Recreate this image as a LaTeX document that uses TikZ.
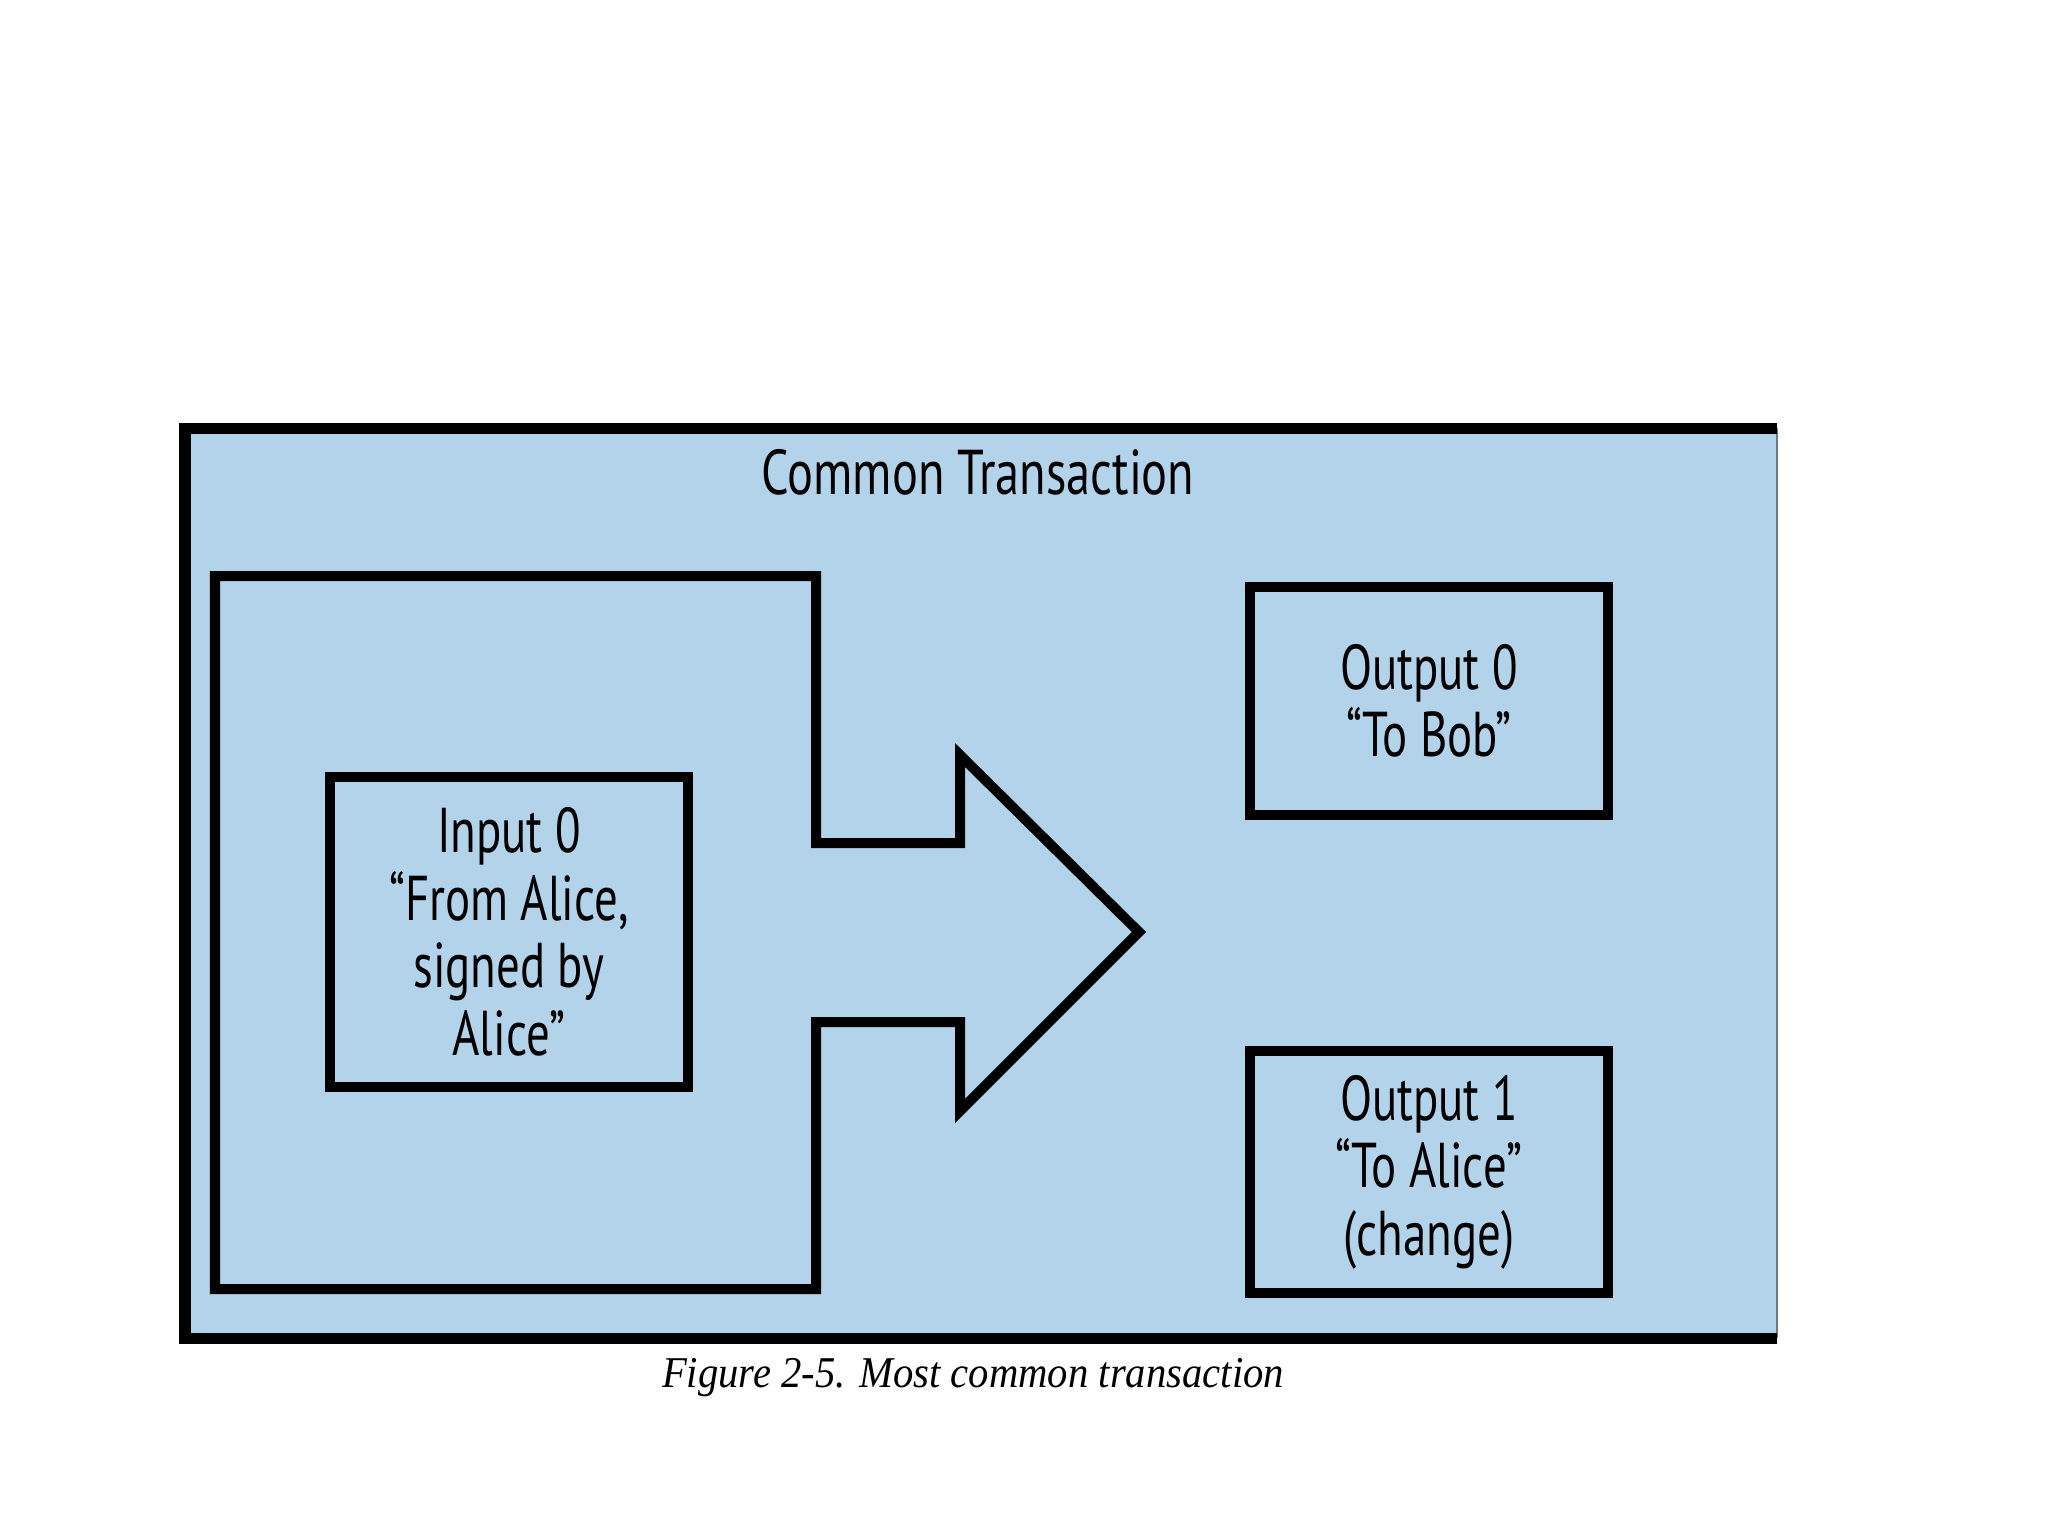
\documentclass[tikz,border=0pt]{standalone}
\usepackage{fontspec}
\newfontfamily\boxfont{PT Sans}[FakeStretch=0.74]
\newfontfamily\titlefont{PT Sans}[FakeStretch=0.765]
\newfontfamily\capfont{Liberation Serif}[FakeStretch=0.925]
\definecolor{txblue}{RGB}{179,211,234}
\definecolor{edgegrey}{RGB}{110,120,130}
\tikzset{
  thickline/.style={draw=black, line width=0.10cm, line join=miter},
  outbox/.style={thickline, fill=txblue, rectangle, inner sep=0pt, align=center,
    font=\boxfont\fontsize{18}{19.2}\selectfont},
  labeltext/.style={inner sep=0pt, align=center, font=\titlefont\fontsize{18}{19.2}\selectfont},
}
\begin{document}
\begin{tikzpicture}[x=0.01cm, y=-0.01cm]
\useasboundingbox (0,0) rectangle (2048,1536);
\fill[white] (0,0) rectangle (2048,1536);
% outer transaction frame
\fill[txblue] (185,428) rectangle (1777,1338);
\draw[edgegrey, line width=0.02cm] (1777,428) -- (1777,1338);
\draw[black, line width=0.11cm, line join=miter] (1777,428) -- (185,428) -- (185,1338) -- (1777,1338);
\node[labeltext, anchor=base] (title) at (978,494) {Common Transaction};
% input region with arrow
\draw[thickline, fill=txblue] (215,576) -- (816,576) -- (816,843) -- (960,843) -- (960,755)
  -- (1139,932) -- (960,1111) -- (960,1022) -- (816,1022) -- (816,1289) -- (215,1289) -- cycle;
% boxes
\node[outbox, minimum width=3.58cm, minimum height=3.10cm] (in0) at (509,932) {Input 0\\“From Alice,\\signed by\\Alice”};
\node[outbox, minimum width=3.58cm, minimum height=2.27cm] (out0) at (1429,701) {Output 0\\“To Bob”};
\node[outbox, minimum width=3.58cm, minimum height=2.42cm] (out1) at (1429,1172) {Output 1\\“To Alice”\\(change)};
% caption
\node[inner sep=0pt, anchor=base, font=\capfont\itshape\fontsize{12.5}{14}\selectfont] (cap) at (973,1387) {Figure 2-5. Most common transaction};
\end{tikzpicture}
\end{document}
